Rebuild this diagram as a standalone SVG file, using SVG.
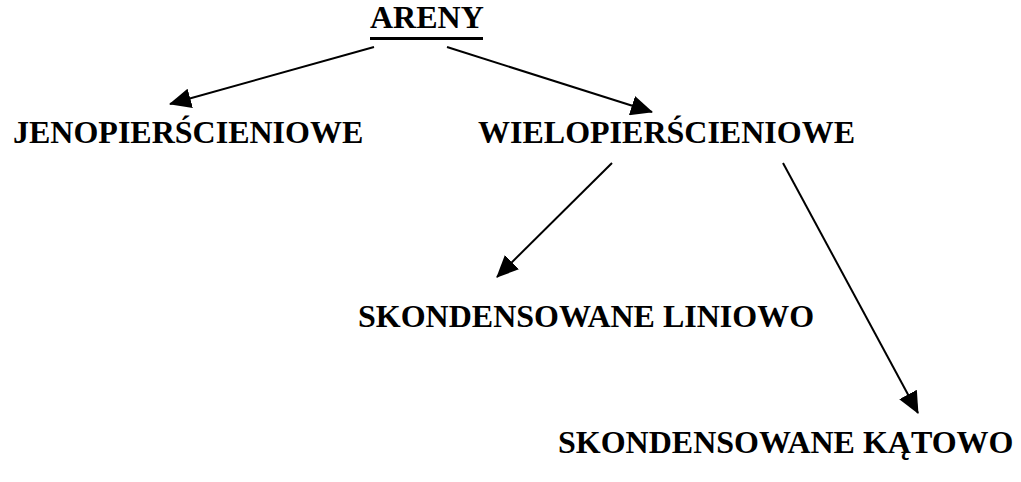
<svg xmlns="http://www.w3.org/2000/svg" width="1021" height="482" viewBox="0 0 1021 482">
  <style>
    .label { font-family: "Liberation Serif", "Times New Roman", serif; font-weight: bold; font-size: 32px; fill: #000; }
    .edge { stroke: #000; stroke-width: 2; fill: none; marker-end: url(#head); }
  </style>
  <defs>
    <marker id="head" markerUnits="userSpaceOnUse" markerWidth="22" markerHeight="20" refX="21" refY="10" orient="auto">
      <path d="M0,0 L22,10 L0,20 z" fill="#000"/>
    </marker>
  </defs>
  <rect width="1021" height="482" fill="#fff"/>

  <g id="connectors">
    <line class="edge" x1="374" y1="47" x2="170" y2="104"/>
    <line class="edge" x1="447" y1="47" x2="652" y2="112"/>
    <line class="edge" x1="612" y1="163" x2="497" y2="277"/>
    <line class="edge" x1="783" y1="163" x2="918" y2="413"/>
  </g>

  <g id="areny">
    <text class="label" x="370" y="28">ARENY</text>
    <rect x="370" y="37" width="113" height="3" fill="#000"/>
  </g>
  <g id="jenopierscieniowe">
    <text class="label" x="13" y="143">JENOPIERŚCIENIOWE</text>
  </g>
  <g id="wielopierscieniowe">
    <text class="label" x="478" y="143">WIELOPIERŚCIENIOWE</text>
  </g>
  <g id="skondensowane-liniowo">
    <text class="label" x="358" y="327">SKONDENSOWANE LINIOWO</text>
  </g>
  <g id="skondensowane-katowo">
    <text class="label" x="558" y="453">SKONDENSOWANE KĄTOWO</text>
  </g>
</svg>
